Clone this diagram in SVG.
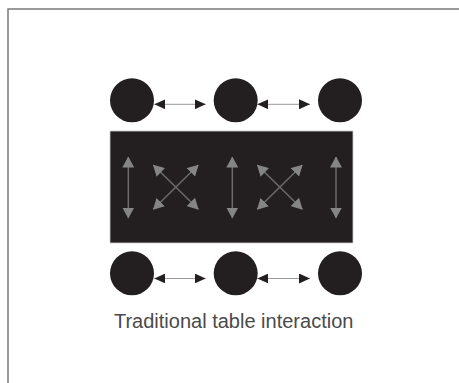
<svg xmlns="http://www.w3.org/2000/svg" width="459" height="383" viewBox="0 0 459 383">
  <style>
    .frame { stroke: #7a7a7a; stroke-width: 1.5; fill: none; }
    .seat { fill: #231f20; }
    .table { fill: #231f20; stroke: #d0d0d0; stroke-width: 0.8; }
    .link { stroke: #9a9a9a; stroke-width: 1; fill: none; }
    .inner { stroke: #6a6a6a; stroke-width: 1.5; fill: none; }
    .label { font-family: "Liberation Sans", Arial, sans-serif; font-size: 20px; fill: #4a4a4a; }
  </style>
  <defs>
    <marker id="blk" viewBox="0 0 11 10" refX="11" refY="5" markerWidth="11" markerHeight="10" markerUnits="userSpaceOnUse" orient="auto-start-reverse">
      <path d="M0,0 L11,5 L0,10 z" fill="#231f20"/>
    </marker>
    <marker id="gry" viewBox="0 0 11 12" refX="10.5" refY="6" markerWidth="11" markerHeight="12" markerUnits="userSpaceOnUse" orient="auto-start-reverse">
      <path d="M0,0 L11,6 L0,12 z" fill="#858585"/>
    </marker>
  </defs>

  <g id="frame">
    <path class="frame" d="M459,9 L8,9 L8,383"/>
  </g>

  <g id="table">
    <rect class="table" x="110" y="131" width="243" height="112"/>
  </g>

  <g id="seat-top-1"><circle class="seat" cx="132" cy="100.3" r="22"/></g>
  <g id="seat-top-2"><circle class="seat" cx="235.7" cy="100.3" r="22"/></g>
  <g id="seat-top-3"><circle class="seat" cx="340" cy="100.3" r="22"/></g>
  <g id="seat-bottom-1"><circle class="seat" cx="132" cy="273.3" r="22"/></g>
  <g id="seat-bottom-2"><circle class="seat" cx="235.7" cy="273.3" r="22"/></g>
  <g id="seat-bottom-3"><circle class="seat" cx="340" cy="273.3" r="22"/></g>

  <g id="connectors">
    <line class="link" x1="154.3" y1="104.3" x2="205.7" y2="104.3" marker-start="url(#blk)" marker-end="url(#blk)"/>
    <line class="link" x1="257.3" y1="104.3" x2="310" y2="104.3" marker-start="url(#blk)" marker-end="url(#blk)"/>
    <line class="link" x1="154.3" y1="278.5" x2="205.7" y2="278.5" marker-start="url(#blk)" marker-end="url(#blk)"/>
    <line class="link" x1="257.3" y1="278.5" x2="310" y2="278.5" marker-start="url(#blk)" marker-end="url(#blk)"/>

    <line class="inner" x1="128.3" y1="157" x2="128.3" y2="218" marker-start="url(#gry)" marker-end="url(#gry)"/>
    <line class="inner" x1="232.3" y1="157" x2="232.3" y2="218" marker-start="url(#gry)" marker-end="url(#gry)"/>
    <line class="inner" x1="336" y1="157" x2="336" y2="218" marker-start="url(#gry)" marker-end="url(#gry)"/>

    <line class="inner" x1="153.3" y1="165" x2="198.3" y2="209.3" marker-start="url(#gry)" marker-end="url(#gry)"/>
    <line class="inner" x1="198.3" y1="165" x2="153.3" y2="209.3" marker-start="url(#gry)" marker-end="url(#gry)"/>
    <line class="inner" x1="257.3" y1="165" x2="302.3" y2="209.3" marker-start="url(#gry)" marker-end="url(#gry)"/>
    <line class="inner" x1="302.3" y1="165" x2="257.3" y2="209.3" marker-start="url(#gry)" marker-end="url(#gry)"/>
  </g>

  <g id="caption">
    <text class="label" x="233.7" y="328.3" text-anchor="middle">Traditional table interaction</text>
  </g>
</svg>
